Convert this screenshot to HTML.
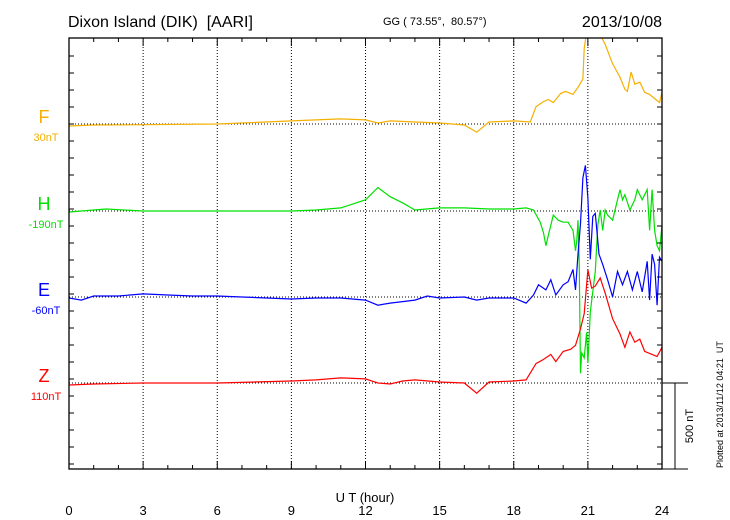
<!DOCTYPE html>
<html><head><meta charset="utf-8"><style>
body{margin:0;background:#fff;}
svg{display:block;font-family:"Liberation Sans",sans-serif;}
</style></head><body>
<svg id="chart" width="730" height="520" viewBox="0 0 730 520">
<text x="68" y="27" font-size="16" fill="#000" style="white-space:pre">Dixon Island (DIK)  [AARI]</text>
<text x="383" y="25" font-size="11" fill="#000" style="white-space:pre">GG ( 73.55°,  80.57°)</text>
<text x="662" y="27" font-size="16" fill="#000" text-anchor="end">2013/10/08</text>
<text x="365" y="502" font-size="13" text-anchor="middle">U T (hour)</text>
<text transform="translate(723,468) rotate(-90)" font-size="9" style="white-space:pre">Plotted at 2013/11/12 04:21  UT</text>
<text transform="translate(693,426) rotate(-90)" font-size="11" text-anchor="middle">500 nT</text>
<g id="grid"></g><g id="series" clip-path="url(#clipP)"></g><g id="axes"></g>
<defs><clipPath id="clipP"><rect x="69" y="38" width="593" height="431"/></clipPath></defs>
</svg>
<script>
const xTicks=[0,3,6,9,12,15,18,21,24];
const seriesNames=["F","H","E","Z"];
const seriesColors=["#f5b000","#00e000","#0000ff","#ff0000"];
const seriesOffsets=["30nT","-190nT","-60nT","110nT"];
const baselines=[124,211,297,383];
// values in nT deviation from baseline
const fHours=[0,1,3,6,9,10,11,12,12.5,13,14,15,16,16.5,17,18,18.67,18.9,19.2,19.4,19.6,19.9,20.1,20.4,20.6,20.8,20.85,20.95,21.2,21.45,21.7,22.0,22.3,22.5,22.6,22.75,22.9,23.1,23.3,23.5,23.75,23.9,24];
const fVals=[-12,-6,-4,0,18,24,30,24,6,18,12,6,-6,-48,12,18,12,102,132,144,126,180,192,174,216,264,444,540,600,540,468,354,276,204,192,306,234,246,186,174,144,126,186];
const hHours=[0,1.5,3,6,9,10,11,12,12.5,13,13.5,14,15,16,17,18,18.5,18.8,19.07,19.2,19.3,19.4,19.6,19.8,20,20.2,20.4,20.5,20.55,20.6,20.65,20.7,20.75,20.85,20.95,21.0,21.1,21.2,21.3,21.4,21.5,21.6,21.7,21.8,22.0,22.2,22.3,22.4,22.5,22.7,22.9,23.0,23.2,23.4,23.5,23.6,23.7,23.8,23.9,24];
const hVals=[-6,12,0,0,0,6,18,66,138,84,48,6,18,18,12,12,18,6,-66,-126,-204,-144,-24,-54,-66,-66,-114,-234,-174,-54,-294,-954,-834,-864,-714,-894,-594,-474,-354,-84,6,-114,6,-24,-54,66,126,66,96,6,66,126,66,126,-114,126,-114,-204,-234,-84];
const eHours=[0,0.5,1,2,3,4,5,6,7,8,9,10,11,12,12.5,13,14,14.5,15,16,16.5,17,18,18.5,18.8,19,19.3,19.5,19.7,20,20.2,20.4,20.5,20.6,20.7,20.8,20.9,21.0,21.1,21.2,21.3,21.45,21.6,21.8,22.0,22.2,22.4,22.6,22.8,23.0,23.2,23.4,23.5,23.6,23.7,23.8,23.9,24];
const eVals=[-6,-18,6,6,18,12,6,6,0,-6,-12,-6,-6,-18,-48,-36,-18,6,-6,0,-18,-6,-6,-36,12,72,42,102,12,72,90,162,42,252,432,702,774,582,222,474,492,252,192,102,0,150,72,150,42,150,30,210,-18,252,192,-48,234,210];
const zHours=[0,1,3,6,9,10,11,12,12.5,13,13.5,14,15,16,16.5,17,18,18.5,18.9,19.2,19.5,19.7,20.0,20.3,20.5,20.7,20.85,21.0,21.15,21.3,21.5,21.7,22.0,22.3,22.5,22.7,22.9,23.1,23.3,23.6,23.8,24];
const zVals=[-12,-6,0,0,12,18,30,24,0,-6,12,18,6,0,-60,6,12,18,114,138,168,126,186,198,222,318,408,666,558,570,618,528,378,288,210,300,240,258,186,168,156,210];
const allHours=[fHours,hHours,eHours,zHours];
const allVals=[fVals,hVals,eVals,zVals];
const NS="http://www.w3.org/2000/svg";
const X0=69,X1=662,Y0=38,Y1=469;
function xs(h){return X0+(X1-X0)*h/24;}
function ys(i,v){return baselines[i]-v*85/500;}
function mk(tag,attrs,parent){const e=document.createElementNS(NS,tag);for(const k in attrs)e.setAttribute(k,attrs[k]);parent.appendChild(e);return e;}
const grid=document.getElementById('grid'),axes=document.getElementById('axes'),ser=document.getElementById('series');
xTicks.forEach(t=>{if(t>0&&t<24){const l=mk('line',{x1:xs(t),x2:xs(t),y1:Y0,y2:Y1,stroke:'#000','stroke-width':1,'stroke-dasharray':'1,2'},grid);

}
const tl=mk('text',{x:xs(t),y:515,'font-size':13,'text-anchor':'middle'},axes);tl.textContent=t;

});
baselines.forEach((b,i)=>{const l=mk('line',{x1:X0,x2:X1,y1:b,y2:b,stroke:'#000','stroke-width':1,'stroke-dasharray':'1,2'},grid);


const n=mk('text',{x:44,y:b-1,'font-size':18,fill:seriesColors[i],'text-anchor':'middle'},axes);n.textContent=seriesNames[i];


const o=mk('text',{x:46,y:b+17,'font-size':11,fill:seriesColors[i],'text-anchor':'middle'},axes);o.textContent=seriesOffsets[i];


const pts=allHours[i].map((h,k)=>xs(h).toFixed(1)+','+ys(i,allVals[i][k]).toFixed(1)).join(' ');
const p=mk('polyline',{points:pts,fill:'none',stroke:seriesColors[i],'stroke-width':1.2},ser);

});
const box=mk('rect',{x:X0,y:Y0,width:X1-X0,height:Y1-Y0,fill:'none',stroke:'#000','stroke-width':1.3},axes);


let d='';
for(let h=0;h<=24;h++){const len=h%3==0?8:4;d+=`M${xs(h)},${Y1}v${-len}M${xs(h)},${Y0}v${len}`;}
for(let k=-6;k<=26;k++){const y=baselines[0]+k*85/5;if(y>Y0+1&&y<Y1-1){d+=`M${X0},${y}h5M${X1},${y}h-5`;}}
const tk=mk('path',{d:d,stroke:'#000','stroke-width':1,fill:'none'},axes);


const sb=mk('path',{d:`M${X1},383H688M675,383V469M${X1},469H688`,stroke:'#000','stroke-width':1,fill:'none'},axes);


</script>
</body></html>
